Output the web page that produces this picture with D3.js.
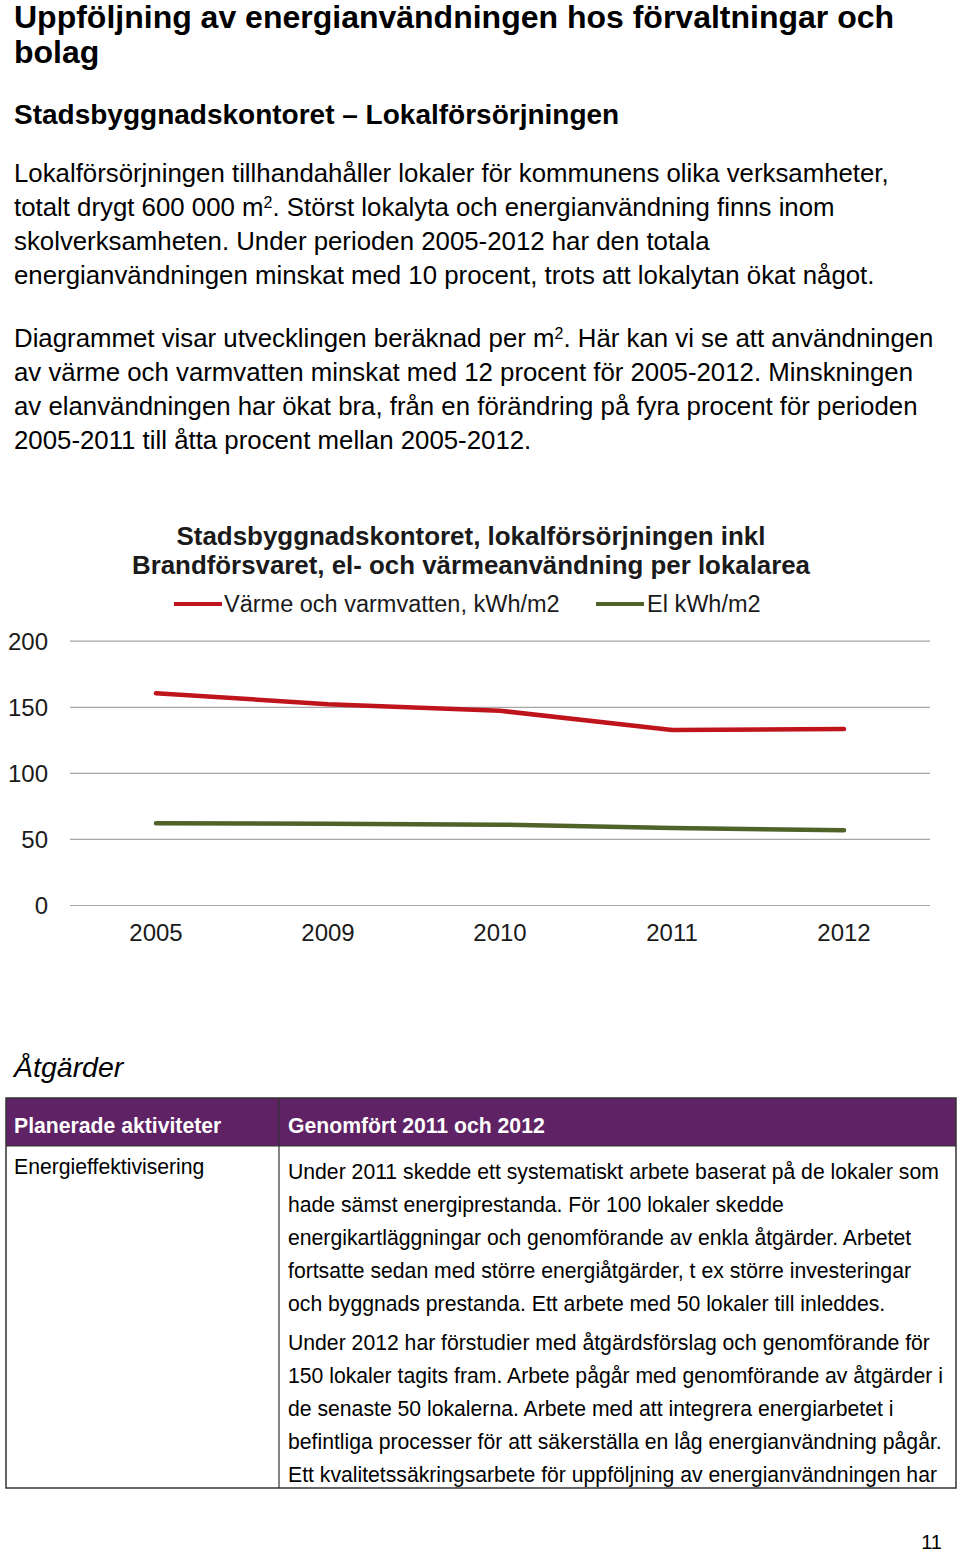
<!DOCTYPE html>
<html><head><meta charset="utf-8">
<script src="https://cdn.jsdelivr.net/npm/d3@7"></script>
<style>
html,body{margin:0;padding:0;background:#fff;}
svg{display:block;font-family:"Liberation Sans",Arial,sans-serif;}
</style></head>
<body><svg id="page" width="960" height="1554"></svg>
<script>
const years = ["2005","2009","2010","2011","2012"];
const heatValues = [160.2, 152, 147, 132.4, 133.2];
const elValues = [61.8, 61.5, 60.8, 58.3, 56.5];
const yTicks = [0, 50, 100, 150, 200];
const seriesNames = ["Värme och varmvatten, kWh/m2", "El kWh/m2"];
const seriesColors = ["#c0141c", "#4f6228"];

const svg = d3.select("#page");

// Page heading
svg.append("text").attr("x",14).attr("y",28).attr("font-size",32).attr("font-weight","bold").attr("fill","#000")
  .text("Uppföljning av energianvändningen hos förvaltningar och");
svg.append("text").attr("x",14).attr("y",63).attr("font-size",32).attr("font-weight","bold").attr("fill","#000")
  .text("bolag");
svg.append("text").attr("x",14).attr("y",124).attr("font-size",28).attr("font-weight","bold").attr("fill","#000")
  .text("Stadsbyggnadskontoret – Lokalförsörjningen");

function line(x,y,size,parts){
  const t = svg.append("text").attr("x",x).attr("y",y).attr("font-size",size).attr("fill","#000");
  parts.forEach(p=>{
    if (typeof p === "string") t.append("tspan").text(p);
    else t.append("tspan").attr("baseline-shift","super").attr("font-size",size*0.62).text(p.sup);
  });
}
const B = 25.8;
line(14,182,B,["Lokalförsörjningen tillhandahåller lokaler för kommunens olika verksamheter,"]);
line(14,216,B,["totalt drygt 600 000 m",{sup:"2"},". Störst lokalyta och energianvändning finns inom"]);
line(14,250,B,["skolverksamheten. Under perioden 2005-2012 har den totala"]);
line(14,284,B,["energianvändningen minskat med 10 procent, trots att lokalytan ökat något."]);
line(14,347,B,["Diagrammet visar utvecklingen beräknad per m",{sup:"2"},". Här kan vi se att användningen"]);
line(14,381,B,["av värme och varmvatten minskat med 12 procent för 2005-2012. Minskningen"]);
line(14,415,B,["av elanvändningen har ökat bra, från en förändring på fyra procent för perioden"]);
line(14,449,B,["2005-2011 till åtta procent mellan 2005-2012."]);

// Chart
const x = d3.scaleBand().domain(years).range([70,930]);
const y = d3.scaleLinear().domain([0,200]).range([905,640.7]);

const chart = svg.append("g");
chart.append("text").attr("x",471).attr("y",545).attr("text-anchor","middle").attr("font-size",25).attr("font-weight","bold").attr("fill","#1a1a1a")
  .attr("textLength",589).attr("lengthAdjust","spacingAndGlyphs")
  .text("Stadsbyggnadskontoret, lokalförsörjningen inkl");
chart.append("text").attr("x",471).attr("y",574).attr("text-anchor","middle").attr("font-size",25).attr("font-weight","bold").attr("fill","#1a1a1a")
  .attr("textLength",678).attr("lengthAdjust","spacingAndGlyphs")
  .text("Brandförsvaret, el- och värmeanvändning per lokalarea");

// legend
const legendItems = [{x:174, tx:224, name:seriesNames[0], color:seriesColors[0]},{x:596, tx:647, name:seriesNames[1], color:seriesColors[1]}];
legendItems.forEach(d=>{
  chart.append("line").attr("x1",d.x).attr("x2",d.x+48).attr("y1",604).attr("y2",604).attr("stroke",d.color).attr("stroke-width",4);
  chart.append("text").attr("x",d.tx).attr("y",612).attr("font-size",23.5).attr("fill","#1a1a1a").text(d.name);
});

// grid
const yAxis = d3.axisLeft(y).tickValues(yTicks).tickSize(-860).tickFormat(d3.format("d"));
const gy = chart.append("g").attr("transform","translate(70,0)").call(yAxis);
gy.select(".domain").remove();
gy.selectAll(".tick line").attr("stroke","#a6a6a6").attr("stroke-width",1.2);
gy.selectAll(".tick text").attr("x",-22).attr("dy","0.35em").attr("font-size",24).attr("fill","#1a1a1a")
  .attr("font-family","'Liberation Sans',Arial,sans-serif");

const xAxis = d3.axisBottom(x).tickSize(0);
const gx = chart.append("g").attr("transform","translate(0,905)").call(xAxis);
gx.select(".domain").remove();
gx.selectAll(".tick text").attr("dy",0).attr("y",36).attr("font-size",24).attr("fill","#1a1a1a")
  .attr("font-family","'Liberation Sans',Arial,sans-serif");

const lineGen = d3.line().x((d,i)=>x(years[i])+x.bandwidth()/2).y(d=>y(d));
[heatValues, elValues].forEach((vals,i)=>{
  chart.append("path").datum(vals).attr("d",lineGen).attr("fill","none").attr("stroke",seriesColors[i])
    .attr("stroke-width",4.5).attr("stroke-linecap","round").attr("stroke-linejoin","round");
});

// Åtgärder
svg.append("text").attr("x",14).attr("y",1077).attr("font-size",28.5).attr("font-style","italic").attr("fill","#000").text("Åtgärder");

// table
const tX0=6, tX1=956, colX=279, hTop=1098, hBot=1146, tBot=1488;
svg.append("rect").attr("x",tX0).attr("y",hTop).attr("width",tX1-tX0).attr("height",hBot-hTop).attr("fill","#5e2265");
svg.append("rect").attr("x",tX0).attr("y",hTop).attr("width",tX1-tX0).attr("height",tBot-hTop).attr("fill","none").attr("stroke","#333").attr("stroke-width",1.5);
svg.append("line").attr("x1",colX).attr("x2",colX).attr("y1",hTop).attr("y2",tBot).attr("stroke","#333").attr("stroke-width",1.2);
svg.append("line").attr("x1",tX0).attr("x2",tX1).attr("y1",hBot).attr("y2",hBot).attr("stroke","#333").attr("stroke-width",1.2);
const T = 21.2;
svg.append("text").attr("x",14).attr("y",1133).attr("font-size",T).attr("font-weight","bold").attr("fill","#fff").text("Planerade aktiviteter");
svg.append("text").attr("x",288).attr("y",1133).attr("font-size",T).attr("font-weight","bold").attr("fill","#fff").text("Genomfört 2011 och 2012");
svg.append("text").attr("x",14).attr("y",1174).attr("font-size",T).attr("fill","#000").text("Energieffektivisering");
const cellLines1 = [
 "Under 2011 skedde ett systematiskt arbete baserat på de lokaler som",
 "hade sämst energiprestanda. För 100 lokaler skedde",
 "energikartläggningar och genomförande av enkla åtgärder. Arbetet",
 "fortsatte sedan med större energiåtgärder, t ex större investeringar",
 "och byggnads prestanda. Ett arbete med 50 lokaler till inleddes."];
const cellLines2 = [
 "Under 2012 har förstudier med åtgärdsförslag och genomförande för",
 "150 lokaler tagits fram. Arbete pågår med genomförande av åtgärder i",
 "de senaste 50 lokalerna. Arbete med att integrera energiarbetet i",
 "befintliga processer för att säkerställa en låg energianvändning pågår.",
 "Ett kvalitetssäkringsarbete för uppföljning av energianvändningen har"];
cellLines1.forEach((t,i)=>svg.append("text").attr("x",288).attr("y",1179+i*33).attr("font-size",T).attr("fill","#000").text(t));
cellLines2.forEach((t,i)=>svg.append("text").attr("x",288).attr("y",1350+i*33).attr("font-size",T).attr("fill","#000").text(t));

svg.append("text").attr("x",942).attr("y",1549).attr("text-anchor","end").attr("font-size",20).attr("fill","#000").text("11");
</script></body></html>
